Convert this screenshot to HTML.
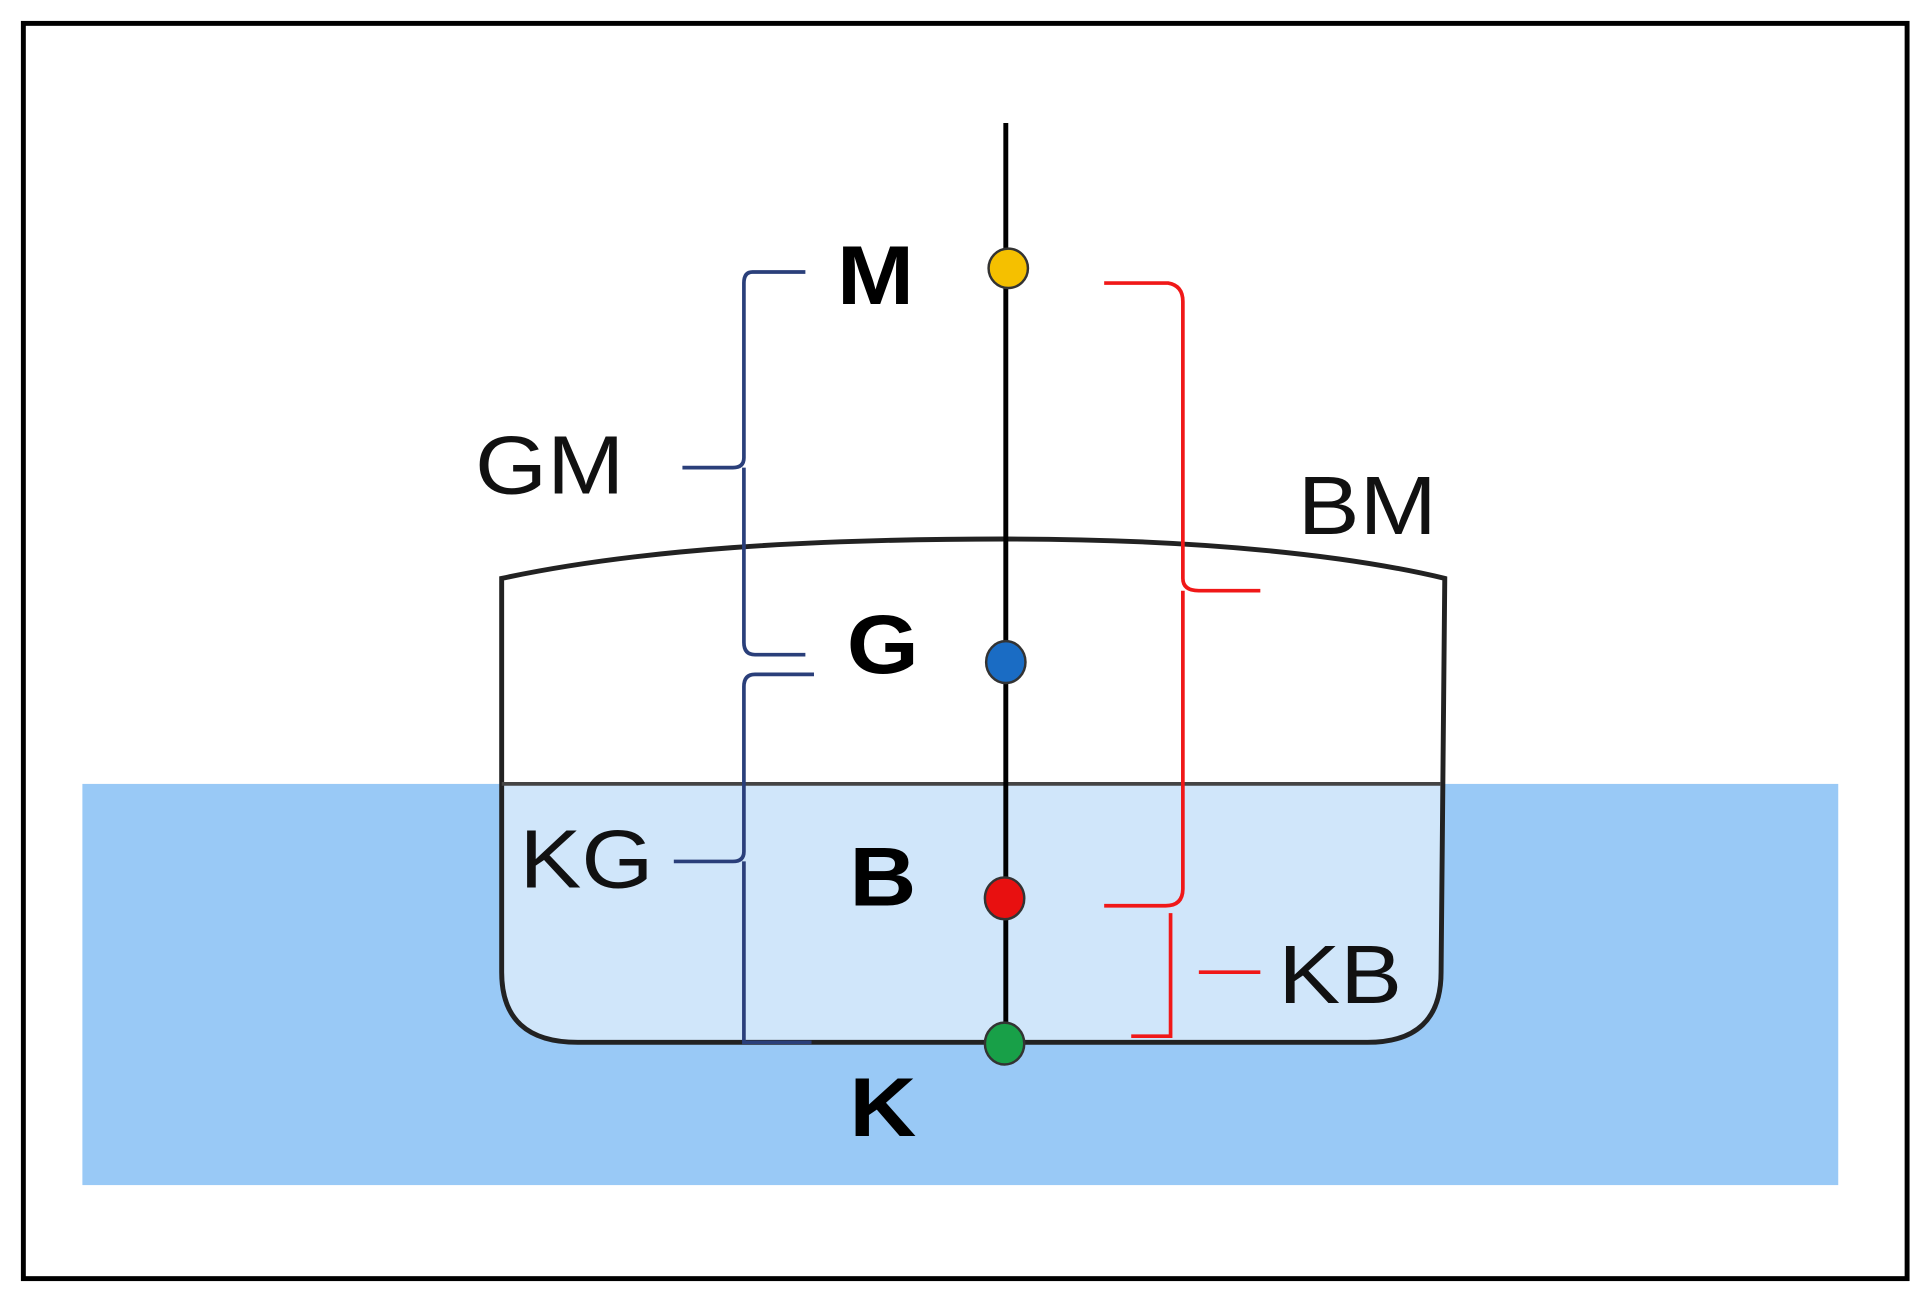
<!DOCTYPE html>
<html><head><meta charset="utf-8"><style>
html,body{margin:0;padding:0;background:#fff;}
svg{display:block;}
</style></head><body>
<svg width="1928" height="1302" viewBox="0 0 1568 1058" preserveAspectRatio="none" xmlns="http://www.w3.org/2000/svg">
<rect x="0" y="0" width="1568" height="1058" fill="#fff"/>
<rect x="19" y="19" width="1532" height="1020" fill="none" stroke="#000" stroke-width="4"/>
<rect x="67" y="637" width="1428" height="326" fill="#99c9f6"/>
<path d="M408,637 L408,790 Q408,847 470,847 L1112,847 Q1172,847 1172,790 L1172,637 Z" fill="#d0e6fa"/>
<path d="M408,470 C520,446 660,438 818,438 C980,438 1100,452 1175,470 L1172,790 Q1172,847 1112,847 L470,847 Q408,847 408,790 Z" fill="none" stroke="#222" stroke-width="4"/>
<line x1="408" y1="637" x2="1172" y2="637" stroke="#444" stroke-width="3"/>
<line x1="818" y1="100" x2="818" y2="848" stroke="#000" stroke-width="4"/>
<g fill="none" stroke="#2a3f7a" stroke-width="3">
<path d="M655,221 L612,221 Q605,221 605,230 L605,372 Q605,380 596,380 L555,380 M605,380 L605,522 Q605,532 614,532 L655,532"/>
<path d="M662,548 L614,548 Q605,548 605,558 L605,692 Q605,700 596,700 L548,700 M605,700 L605,847 L660,847"/>
</g>
<g fill="none" stroke="#f01818" stroke-width="3">
<path d="M898,230 L950,230 Q962,232 962,245 L962,470 Q962,480 975,480 L1025,480 M962,480 L962,722 Q962,736 948,736 L898,736"/>
<path d="M952,742 L952,842 L920,842 M975,790 L1025,790"/>
</g>
<ellipse cx="820" cy="218" rx="16" ry="16" fill="#f5c000" stroke="#333" stroke-width="2"/>
<ellipse cx="818" cy="538" rx="16" ry="17" fill="#1a6cc4" stroke="#333" stroke-width="2"/>
<ellipse cx="817" cy="730" rx="16" ry="17" fill="#e81010" stroke="#333" stroke-width="2"/>
<ellipse cx="817" cy="848" rx="16" ry="17" fill="#18a048" stroke="#333" stroke-width="2"/>
<g font-family="Liberation Sans, sans-serif" font-weight="bold" font-size="58" fill="#000" text-anchor="middle">
<text transform="translate(712,247) scale(1.3,1.17)">M</text>
<text transform="translate(718,547) scale(1.3,1.17)">G</text>
<text transform="translate(718,736) scale(1.3,1.17)">B</text>
<text transform="translate(718,923) scale(1.3,1.17)">K</text>
</g>
<g font-family="Liberation Sans, sans-serif" font-size="58" fill="#111" text-anchor="middle">
<text transform="translate(447,401) scale(1.3,1.16)">GM</text>
<text transform="translate(477,721) scale(1.3,1.16)">KG</text>
<text transform="translate(1112,434) scale(1.3,1.16)">BM</text>
<text transform="translate(1090,815) scale(1.3,1.16)">KB</text>
</g>
</svg>
</body></html>
